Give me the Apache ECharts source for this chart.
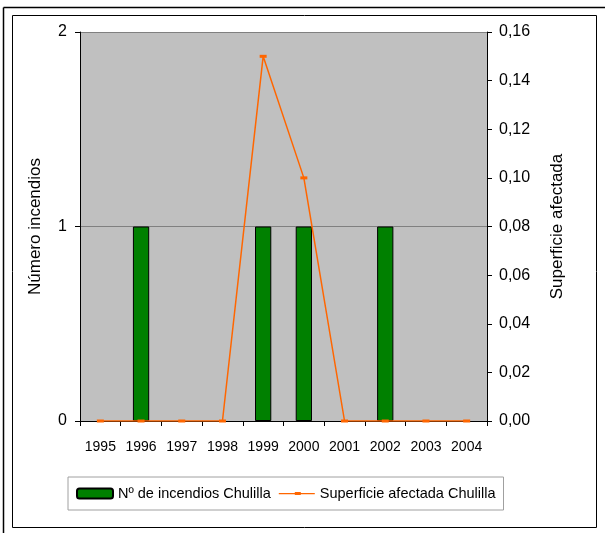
<!DOCTYPE html>
<html><head><meta charset="utf-8">
<script src="https://cdn.jsdelivr.net/npm/echarts@6/dist/echarts.min.js"></script>
<style>html,body{margin:0;padding:0;background:#fff}#c{width:605px;height:533px}</style>
</head><body><div id="c"></div>
<script>
const years = ['1995','1996','1997','1998','1999','2000','2001','2002','2003','2004'];
const incendios = [0,1,0,0,1,1,0,1,0,0];
const superficie = [0,0,0,0,0.15,0.10,0,0,0,0];

const font = 'Liberation Sans, Arial, sans-serif';
const chart = echarts.init(document.getElementById('c'), null, {renderer:'canvas'});
chart.setOption({
  animation:false,
  textStyle:{fontFamily:font},
  graphic:[
    {type:'line', shape:{x1:3.5,y1:7.5,x2:605,y2:7.5}, style:{stroke:'#000',lineWidth:1.5}, silent:true},
    {type:'line', shape:{x1:3.5,y1:7.5,x2:3.5,y2:533}, style:{stroke:'#000',lineWidth:1.5}, silent:true},
    {type:'rect', shape:{x:12.5,y:15.5,width:584,height:512}, style:{fill:null,stroke:'#000',lineWidth:1}, silent:true, z:-1}
  ],
  grid:{left:80,right:118,top:32,bottom:112,show:true,backgroundColor:'#c0c0c0',borderWidth:0},
  legend:{
    left:68, top:477, padding:[9,8,9,8], itemGap:8,
    borderColor:'#a0a0a0', borderWidth:1,
    itemWidth:36, itemHeight:10, symbolKeepAspect:true,
    textStyle:{fontFamily:font,fontSize:14.5,color:'#000'},
    data:[
      {name:'Nº de incendios Chulilla'},
      {name:'Superficie afectada Chulilla', icon:'path://M0,1L36,1L36,2.2L0,2.2Z M16,0L22,0L22,3L16,3Z'}
    ]
  },
  xAxis:{
    type:'category', data:years, boundaryGap:true,
    axisLine:{lineStyle:{color:'#000',width:1}},
    axisTick:{show:true,length:5,lineStyle:{color:'#000'}},
    axisLabel:{color:'#000',fontSize:14,margin:19,fontFamily:font}
  },
  yAxis:[
    {type:'value', min:0, max:2, interval:1, position:'left',
     name:'Número incendios', nameLocation:'middle', nameGap:36, nameRotate:90,
     nameTextStyle:{color:'#000',fontSize:17,fontFamily:font},
     axisLine:{show:true,lineStyle:{color:'#000'}},
     axisTick:{show:true,length:5,lineStyle:{color:'#000'}},
     axisLabel:{color:'#000',fontSize:16,margin:13,fontFamily:font},
     splitLine:{show:true,lineStyle:{color:'#808080',width:1}}
    },
    {type:'value', min:0, max:0.16, interval:0.02, position:'right',
     name:'Superficie afectada', nameLocation:'middle', nameGap:62, nameRotate:90,
     nameTextStyle:{color:'#000',fontSize:17,fontFamily:font},
     axisLine:{show:true,lineStyle:{color:'#000'}},
     axisTick:{show:true,length:5,lineStyle:{color:'#000'}},
     axisLabel:{color:'#000',fontSize:16,margin:12,fontFamily:font,
       formatter:v=>v.toFixed(2).replace('.',',')},
     splitLine:{show:false}
    }
  ],
  series:[
    {name:'Nº de incendios Chulilla', type:'bar', yAxisIndex:0,
     data:incendios.map(v=>({value:v,itemStyle:{borderWidth:v?1:0}})),
     barWidth:'40%',
     itemStyle:{color:'#008000',borderColor:'#000',borderWidth:1}},
    {name:'Superficie afectada Chulilla', type:'line', yAxisIndex:1, data:superficie,
     symbol:'rect', symbolSize:[7,3], showSymbol:true,
     lineStyle:{color:'#ff6600',width:1.5},
     itemStyle:{color:'#ff6600'}}
  ]
});
</script></body></html>
